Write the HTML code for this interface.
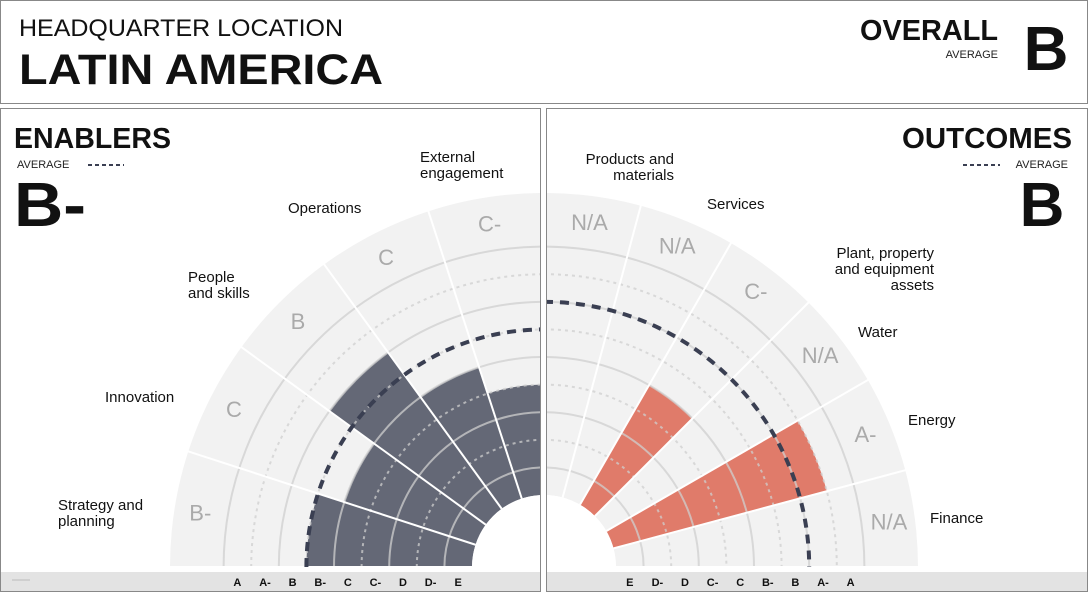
<!DOCTYPE html>
<html><head><meta charset="utf-8"><style>
html,body{margin:0;padding:0;background:#fff;width:1088px;height:592px;overflow:hidden;}
svg{display:block;font-family:"Liberation Sans",sans-serif;}
</style></head><body>
<svg id="chart" width="1088" height="592" viewBox="0 0 1088 592">
<defs>
<clipPath id="clipL"><rect x="1" y="109" width="539" height="462"/></clipPath>
<clipPath id="clipR"><rect x="547" y="109" width="540" height="462"/></clipPath>
</defs>
<rect x="0.5" y="0.5" width="1087" height="103" fill="#fff" stroke="#888"/>
<text x="19" y="36" font-size="24" textLength="324" lengthAdjust="spacingAndGlyphs" fill="#111">HEADQUARTER LOCATION</text>
<text x="19" y="84" font-size="43" font-weight="bold" textLength="364" lengthAdjust="spacingAndGlyphs" fill="#111">LATIN AMERICA</text>
<text x="998" y="40" font-size="29" font-weight="bold" text-anchor="end" textLength="138" lengthAdjust="spacingAndGlyphs" fill="#111">OVERALL</text>
<text x="998" y="58" font-size="11" text-anchor="end" fill="#222">AVERAGE</text>
<text x="1046" y="70" font-size="62" font-weight="bold" text-anchor="middle" fill="#111">B</text>

<rect x="0.5" y="108.5" width="540" height="483" fill="#fff" stroke="#888"/>
<rect x="546.5" y="108.5" width="541" height="483" fill="#fff" stroke="#888"/>
<rect x="1" y="572" width="539" height="19" fill="#e3e3e3"/>
<rect x="547" y="572" width="540" height="19" fill="#e3e3e3"/>
<line x1="12" y1="580" x2="30" y2="580" stroke="#bbb"/>

<g id="gL" clip-path="url(#clipL)"></g>
<g id="gR" clip-path="url(#clipR)"></g>
<g id="labels"></g>

<text x="14" y="148" font-size="29" font-weight="bold" textLength="157" lengthAdjust="spacingAndGlyphs" fill="#111">ENABLERS</text>
<text x="17" y="168" font-size="11" fill="#222">AVERAGE</text>
<line x1="88" y1="165" x2="124" y2="165" stroke="#3a3f52" stroke-width="2" stroke-dasharray="4,3"/>
<text x="14" y="226" font-size="62" font-weight="bold" fill="#111" textLength="72" lengthAdjust="spacingAndGlyphs">B-</text>
<text x="1072" y="148" font-size="29" font-weight="bold" text-anchor="end" textLength="170" lengthAdjust="spacingAndGlyphs" fill="#111">OUTCOMES</text>
<line x1="963" y1="165" x2="1000" y2="165" stroke="#3a3f52" stroke-width="2" stroke-dasharray="4,3"/>
<text x="1068" y="168" font-size="11" text-anchor="end" fill="#222">AVERAGE</text>
<text x="1042" y="226" font-size="62" font-weight="bold" text-anchor="middle" fill="#111">B</text>
</svg>
<script>
const gradeScale = ['E','D-','D','C-','C','B-','B','A-','A'];
const leftCategories = ['Strategy and planning','Innovation','People and skills','Operations','External engagement'];
const leftGrades = ['B-','C','B','C','C-'];
const leftBars = ['B-','C','B','C','C-'];
const leftAverage = 'B-';
const rightCategories = ['Products and materials','Services','Plant, property and equipment assets','Water','Energy','Finance'];
const rightGrades = ['N/A','N/A','C-','N/A','A-','N/A'];
const rightBars = [null,null,'C',null,'A-',null];
const rightAverage = 'B';

const NS='http://www.w3.org/2000/svg';
const CX=544, CY=567, R0=72, STEP=27.6, ROUT=374;
function rOuter(g){return R0+STEP*(gradeScale.indexOf(g)+1);}
function rMid(g){return R0+STEP*(gradeScale.indexOf(g)+0.5);}
function pt(r,deg){const a=deg*Math.PI/180;return [CX+r*Math.cos(a),CY-r*Math.sin(a)];}
function mk(tag,attrs,parent){const e=document.createElementNS(NS,tag);for(const k in attrs)e.setAttribute(k,attrs[k]);parent.appendChild(e);return e;}
function sector(r1,r2,a1,a2){
  const [x1,y1]=pt(r2,a1),[x2,y2]=pt(r2,a2),[x3,y3]=pt(r1,a2),[x4,y4]=pt(r1,a1);
  const sw=a1>a2?1:0;
  return `M${x1},${y1}A${r2},${r2} 0 0 ${sw} ${x2},${y2}L${x3},${y3}A${r1},${r1} 0 0 ${1-sw} ${x4},${y4}Z`;
}
function arc(r,a1,a2){const [x1,y1]=pt(r,a1),[x2,y2]=pt(r,a2);return `M${x1},${y1}A${r},${r} 0 0 ${a1>a2?1:0} ${x2},${y2}`;}

function drawChart(g,side,cats,grades,bars,avg,color){
  const n=cats.length, span=90/n;
  const startA = side==='L'?180:90, dir=-1;
  const endA = side==='L'?90:0;
  const bg=mk('path',{d:sector(R0,ROUT,startA,endA),fill:'#f2f2f2'},g);
  
  
  bars.forEach((b,i)=>{
    if(!b)return;
    const a1=startA+dir*span*i, a2=startA+dir*span*(i+1);
    const p=mk('path',{d:sector(R0,rOuter(b),a1,a2),fill:color},g);
    
    
  });
  for(let k=1;k<=9;k++){
    const r=R0+STEP*k;
    const a=mk('path',{d:arc(r,startA,endA),fill:'none',stroke:'#cfcfcf','stroke-width':2,'stroke-opacity':0.75},g);
    if(k%2===0)a.setAttribute('stroke-dasharray','3,4');
    
    
  }
  for(let i=0;i<=n;i++){
    const a=startA+dir*span*i;
    const [x1,y1]=pt(R0,a),[x2,y2]=pt(ROUT+2,a);
    const l=mk('line',{x1,y1,x2,y2,stroke:'#fff','stroke-width':2},g);
    
    
  }
  const h=mk('circle',{cx:CX,cy:CY,r:R0,fill:'#fff'},g);
  
  
  const av=mk('path',{d:arc(rOuter(avg),startA,endA),fill:'none',stroke:'#3a3f52','stroke-width':4,'stroke-dasharray':'9,7'},g);
  
  
  grades.forEach((gr,i)=>{
    const a=startA+dir*span*(i+0.5);
    const [x,y]=pt(348,a);
    const t=mk('text',{x,y:y+8,'text-anchor':'middle','font-size':22,fill:'#aaa','font-family':'"Liberation Sans Narrow","Liberation Sans",sans-serif'},g);
    t.textContent=gr;
    
    
  });
}
drawChart(document.getElementById('gL'),'L',leftCategories,leftGrades,leftBars,leftAverage,'#646876');
drawChart(document.getElementById('gR'),'R',rightCategories,rightGrades,rightBars,rightAverage,'#e07b6a');

const lab=document.getElementById('labels');
gradeScale.forEach(gr=>{
  const tl=mk('text',{x:CX-rMid(gr),y:586,'text-anchor':'middle','font-size':11,'font-weight':'bold',fill:'#111'},lab);
  tl.textContent=gr;
  
  
  const tr=mk('text',{x:CX+rMid(gr),y:586,'text-anchor':'middle','font-size':11,'font-weight':'bold',fill:'#111'},lab);
  tr.textContent=gr;
  
  
});
const catPos=[
 [['Strategy and','planning'],58,510,'start'],
 [['Innovation'],105,402,'start'],
 [['People','and skills'],188,282,'start'],
 [['Operations'],288,213,'start'],
 [['External','engagement'],420,162,'start'],
 [['Products and','materials'],674,164,'end'],
 [['Services'],707,209,'start'],
 [['Plant, property','and equipment','assets'],934,258,'end'],
 [['Water'],858,337,'start'],
 [['Energy'],908,425,'start'],
 [['Finance'],930,523,'start']
];
catPos.forEach(c=>{
  const t=mk('text',{x:c[1],y:c[2],'font-size':15,fill:'#111','text-anchor':c[3]},lab);
  c[0].forEach((line,i)=>{const s=mk('tspan',{x:c[1],dy:i?16:0},t);s.textContent=line;});
  
  
});
</script>
</body></html>
